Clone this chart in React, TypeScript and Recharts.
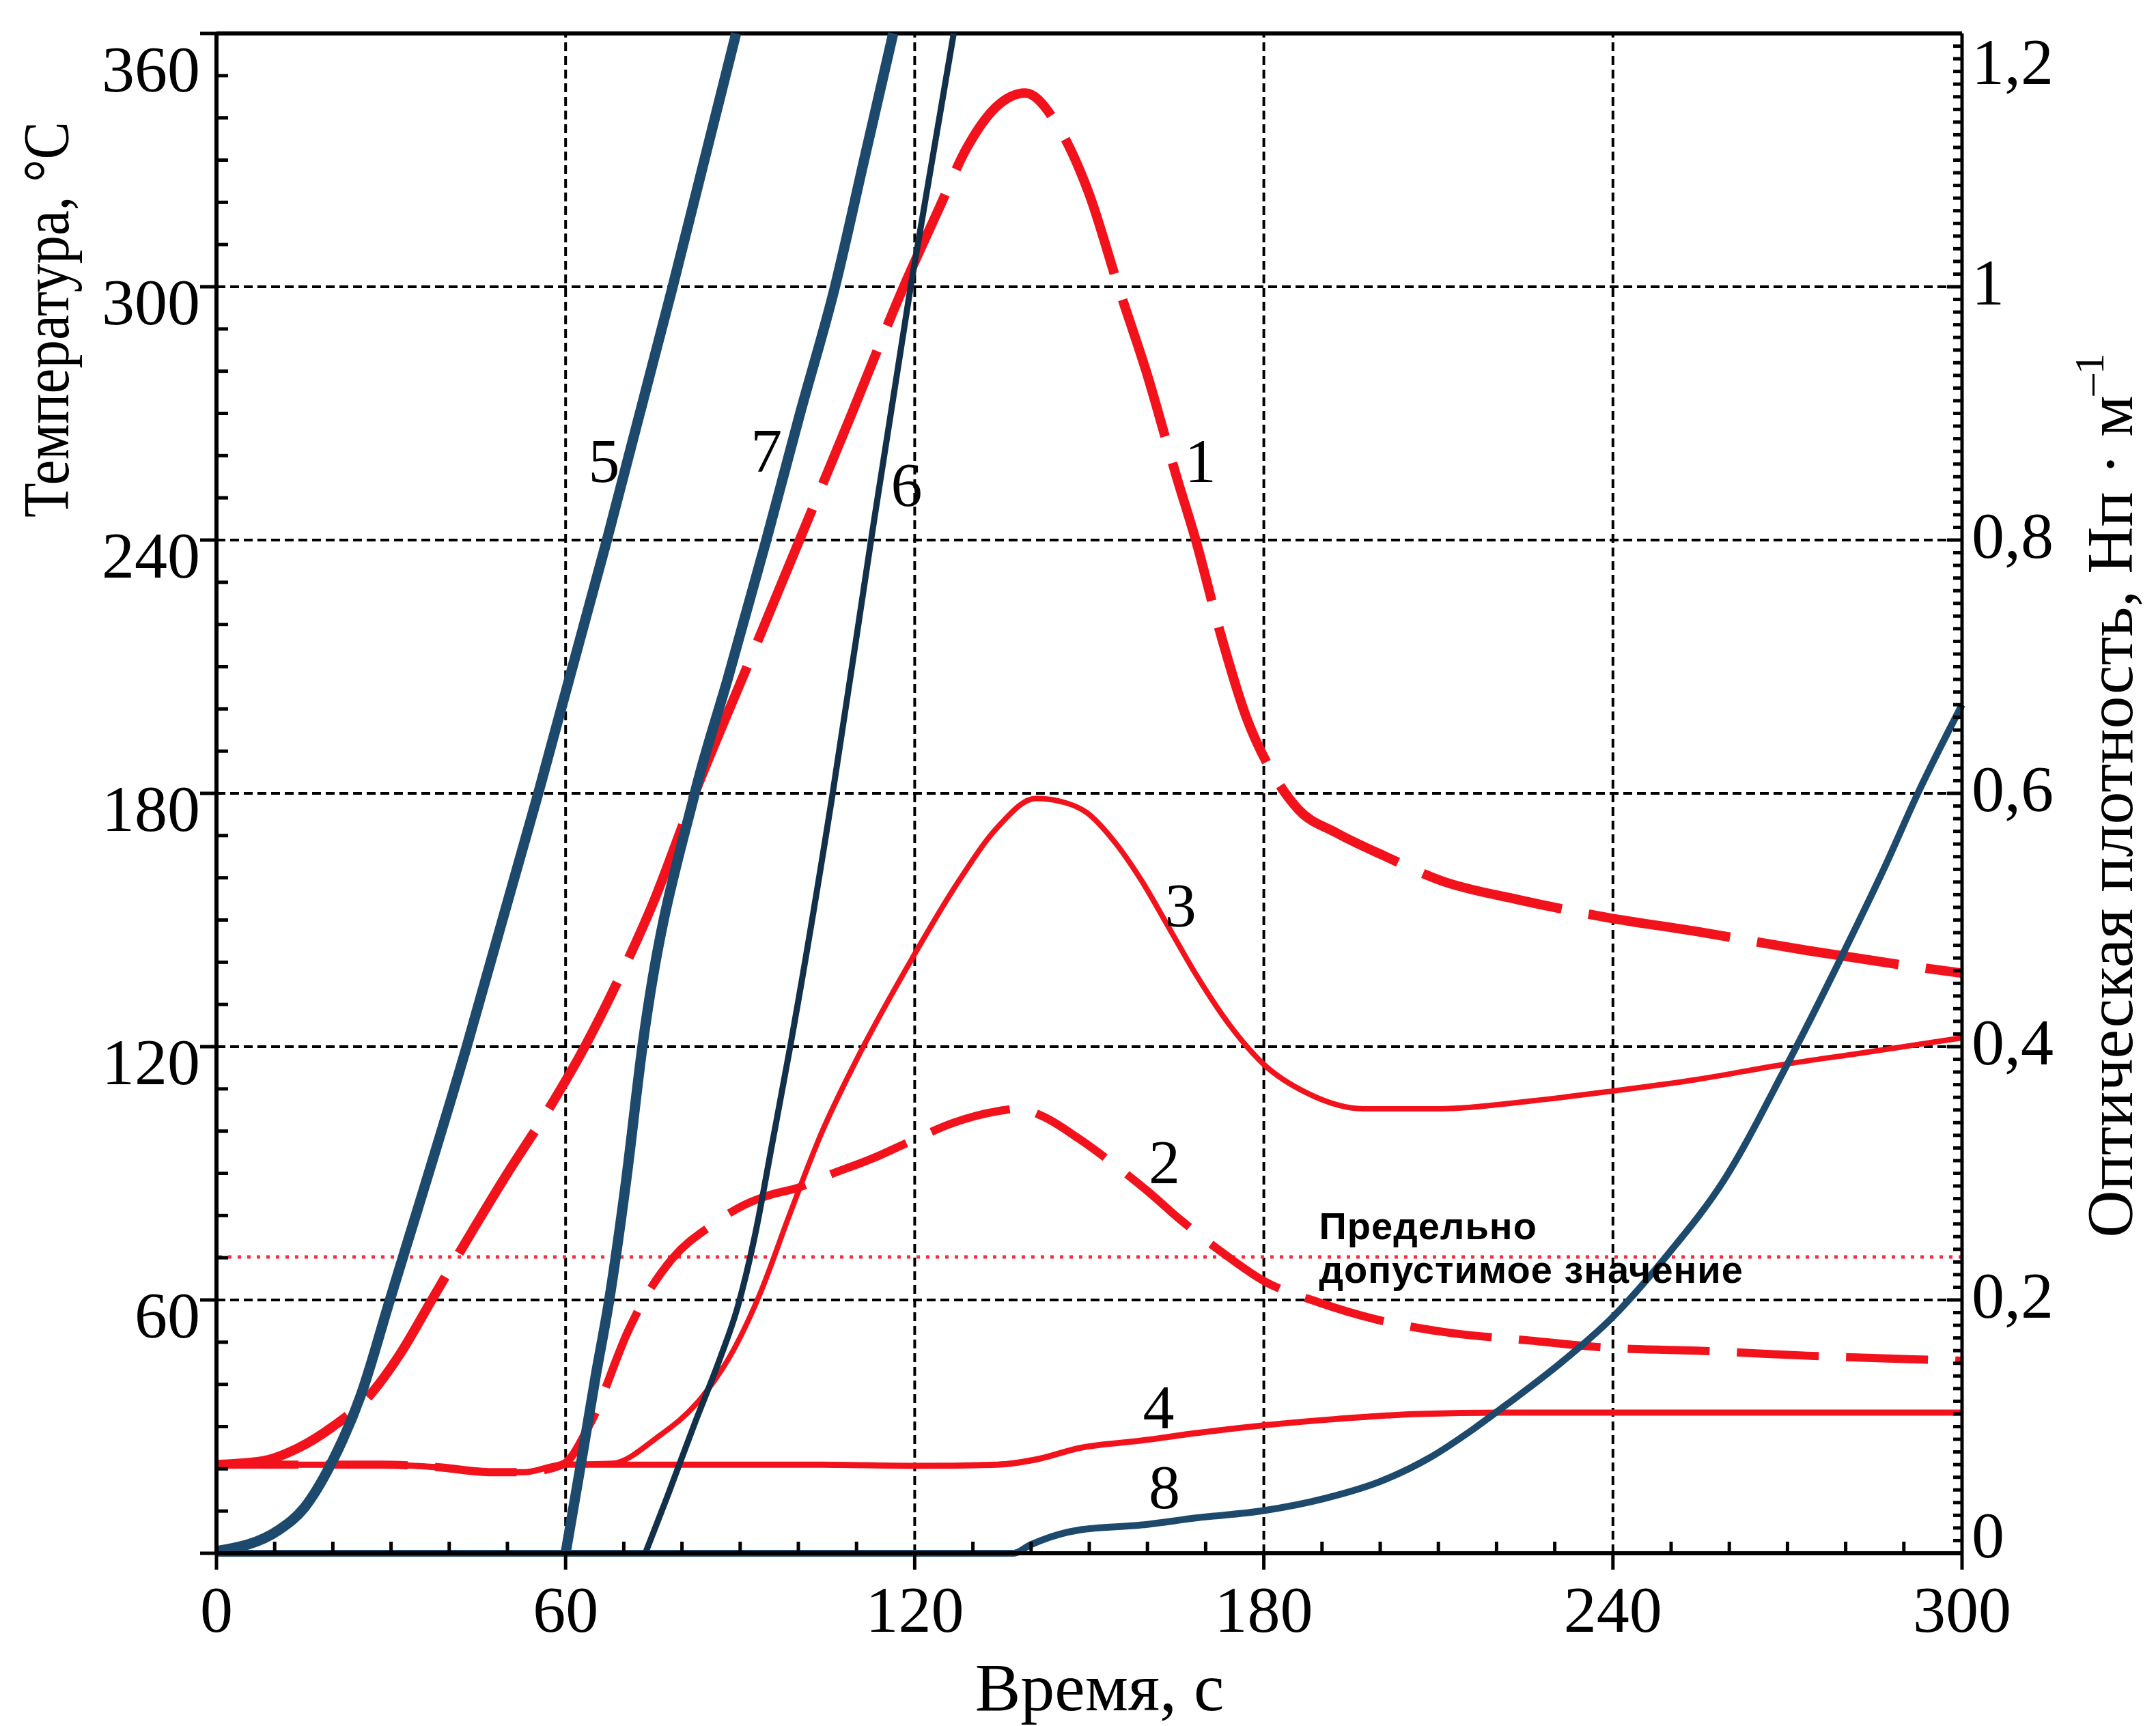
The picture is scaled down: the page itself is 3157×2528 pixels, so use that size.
import React from "react"
import { LineChart, Line, XAxis, YAxis, ReferenceLine, ReferenceDot } from "recharts"

const SERIF = '"Liberation Serif", "Times New Roman", serif'
const SANS = '"Liberation Sans", Arial, sans-serif'
const RED = "#f2121c"
const BLUE = "#1d4a6c"
const DARK = "#13304a"

// axes
const X_MAJOR = [0, 60, 120, 180, 240, 300]
const TEMP_MAJOR = [0, 60, 120, 180, 240, 300, 360]
const X_TICKS = Array.from({ length: 31 }, (_, i) => i * 10)
const TEMP_TICKS = Array.from({ length: 37 }, (_, i) => i * 10)
const OD_TICKS = Array.from({ length: 121 }, (_, i) => i / 100)
const X_GRID = [60, 120, 180, 240]
const TEMP_GRID = [60, 120, 180, 240, 300]
const OD_LIMIT = 0.234

// optical density, Нп/м (right axis): [time, value]
const CURVE_1: [number, number][] = [
  [0, 0.07], [8, 0.073], [14, 0.083], [20, 0.1], [26, 0.123], [31.5, 0.157], [37, 0.2],
  [43, 0.247], [50, 0.3], [57, 0.35], [63.3, 0.4], [69, 0.452], [75, 0.513], [82.2, 0.6],
  [91.2, 0.7], [100.2, 0.8], [109.2, 0.9], [118.1, 1.0], [124, 1.06], [129, 1.11],
  [134, 1.142], [139, 1.153], [144.6, 1.127], [150, 1.073], [155, 1.0], [160, 0.93],
  [165, 0.85], [168.3, 0.8], [172.5, 0.727], [177, 0.66], [181, 0.62], [186, 0.587],
  [192.4, 0.569], [201, 0.55], [210.5, 0.531], [223.8, 0.516], [239, 0.502], [254.3, 0.491],
  [273.3, 0.476], [290.5, 0.464], [300, 0.458],
]
const CURVE_2: [number, number][] = [
  [0, 0.07], [28.4, 0.07], [37.8, 0.068], [47.3, 0.064], [52.9, 0.064], [59.5, 0.07],
  [64.3, 0.103], [70.9, 0.177], [73.7, 0.202], [78.4, 0.233], [85.1, 0.259], [90.7, 0.275],
  [94.5, 0.282], [100.2, 0.289], [104.9, 0.298], [113.4, 0.313], [119.6, 0.326], [126.7, 0.34],
  [134.2, 0.349], [138, 0.351], [142, 0.345], [148, 0.328], [154, 0.308], [160, 0.286],
  [166, 0.262], [173, 0.237], [180, 0.215], [189.5, 0.198], [199, 0.185], [210.5, 0.175],
  [225.7, 0.168], [240, 0.162], [254.3, 0.16], [273.3, 0.156], [300, 0.152],
]
const CURVE_3: [number, number][] = [
  [0, 0.07], [28.4, 0.07], [37.8, 0.068], [47.3, 0.064], [52.9, 0.064], [59.5, 0.07],
  [68, 0.071], [75.6, 0.091], [83.2, 0.122], [88.8, 0.16], [93.6, 0.207], [98.3, 0.265],
  [104, 0.332], [109.6, 0.386], [119.6, 0.47], [127.6, 0.531], [134.2, 0.573], [140.8, 0.596],
  [145.6, 0.593], [149.5, 0.585], [154.3, 0.562], [159, 0.531], [163.8, 0.493], [168.6, 0.455],
  [174.3, 0.416], [180, 0.386], [187.6, 0.363], [197.1, 0.351], [210.5, 0.351], [225.7, 0.357],
  [240, 0.365], [254.3, 0.374], [269.4, 0.386], [282.8, 0.395], [300, 0.407],
]
const CURVE_4: [number, number][] = [
  [0, 0.07], [28.4, 0.07], [37.8, 0.068], [47.3, 0.064], [52.9, 0.064], [59.5, 0.07],
  [80, 0.07], [104, 0.07], [119.6, 0.069], [134.2, 0.07], [140.8, 0.074], [148.2, 0.083],
  [159, 0.089], [168.6, 0.095], [180, 0.101], [192.4, 0.106], [206.7, 0.11], [221, 0.111],
  [240, 0.111], [270, 0.111], [300, 0.111],
]

// temperature, °C (left axis): [time, value]
const CURVE_5: [number, number][] = [
  [0, 0.5], [10.7, 5.5], [15.1, 10.8], [19.7, 21.2], [24.9, 37.8], [29.8, 60], [43, 120],
  [55.3, 180], [67.1, 240], [78.4, 300], [89.3, 360],
]
const CURVE_6: [number, number][] = [
  [73.7, 0], [77.5, 13.5], [82.2, 30.8], [86.5, 46], [89.5, 58], [92.5, 75], [95.5, 97],
  [98.6, 120], [105.9, 180], [112.5, 240], [119.3, 300], [126.7, 360],
]
const CURVE_7: [number, number][] = [
  [60, 0], [62.4, 19.3], [65.2, 42.2], [67.5, 60], [70.4, 88.2], [73.2, 120],
  [82.2, 180], [87.9, 207.3], [94.5, 240], [100.3, 270], [106.3, 300],
  [111.3, 330], [116.3, 360],
]
const CURVE_8: [number, number][] = [
  [0, 0], [137, 0], [139.9, 2], [148.2, 5.5], [159, 6.7], [168.6, 8.4], [180, 10.1],
  [190.5, 13], [200, 17], [208.6, 22.7], [216.2, 29.6], [221.9, 35.4], [230.5, 44.5],
  [240, 56], [249.5, 70.9], [259, 88.2], [269.5, 114.6], [280, 143.3], [286.7, 162.5],
  [292.4, 180], [300, 201],
]

// curve numbers, in time / temperature units
const CURVE_LABELS = [
  { name: "1", t: 169.1, temp: 259 },
  { name: "2", t: 162.9, temp: 92.8 },
  { name: "3", t: 165.7, temp: 153.6 },
  { name: "4", t: 161.9, temp: 34.8 },
  { name: "5", t: 66.6, temp: 259 },
  { name: "6", t: 118.6, temp: 253.2 },
  { name: "7", t: 94.5, temp: 261.3 },
  { name: "8", t: 162.9, temp: 15.8 },
]

const pts = (a: [number, number][]) => a.map(([t, v]) => ({ t, v }))

function XTick({ x, y, payload }: any) {
  const v = payload.value
  const major = X_MAJOR.includes(v)
  return (
    <g>
      {major ? (
        <line x1={x} y1={y} x2={x} y2={y + 24} stroke="#000" strokeWidth={5} />
      ) : (
        <line x1={x} y1={y} x2={x} y2={y - 17} stroke="#000" strokeWidth={5} />
      )}
      {major && (
        <text x={x} y={y + 115} textAnchor="middle" fontFamily={SERIF} fontSize={96} fill="#000">
          {v}
        </text>
      )}
    </g>
  )
}

function TempTick({ x, y, payload }: any) {
  const v = payload.value
  const major = TEMP_MAJOR.includes(v)
  return (
    <g>
      {major ? (
        <line x1={x - 24} y1={y} x2={x} y2={y} stroke="#000" strokeWidth={5} />
      ) : (
        <line x1={x} y1={y} x2={x + 17} y2={y} stroke="#000" strokeWidth={5} />
      )}
      {major && v > 0 && (
        <text x={x - 24} y={y + (v === 360 ? 85 : 55)} textAnchor="end" fontFamily={SERIF} fontSize={96} fill="#000">
          {v}
        </text>
      )}
    </g>
  )
}

function OdTick({ x, y, payload }: any) {
  const i = Math.round(payload.value * 100)
  const major = i % 20 === 0
  const dy = i === 120 ? 74 : i === 0 ? 6 : 26
  return (
    <g>
      <line x1={x - (major ? 22 : 13)} y1={y} x2={x} y2={y} stroke="#000" strokeWidth={5} />
      {major && (
        <text x={x + 14} y={y + dy} textAnchor="start" fontFamily={SERIF} fontSize={96} fill="#000">
          {String(i / 100).replace(".", ",")}
        </text>
      )}
    </g>
  )
}

export default function App() {
  return (
    <div style={{ position: "absolute", left: 0, top: 0, background: "#fff" }}>
      <LineChart width={3157} height={2528} margin={{ top: 49, right: 0, bottom: 0, left: 0 }}>
        <XAxis
          dataKey="t"
          type="number"
          domain={[0, 300]}
          ticks={X_TICKS}
          interval={0}
          height={253}
          tickSize={0}
          tickMargin={0}
          tickLine={false}
          axisLine={{ stroke: "#000", strokeWidth: 6 }}
          tick={(p: any) => <XTick {...p} />}
          label={{
            content: () => (
              <text x={1610} y={2505} textAnchor="middle" fontFamily={SERIF} fontSize={100} fill="#000">
                Время, с
              </text>
            ),
          }}
        />
        <YAxis
          yAxisId="temp"
          type="number"
          domain={[0, 360]}
          ticks={TEMP_TICKS}
          interval={0}
          width={317}
          tickSize={0}
          tickMargin={0}
          tickLine={false}
          axisLine={{ stroke: "#000", strokeWidth: 6 }}
          tick={(p: any) => <TempTick {...p} />}
          label={{
            content: () => (
              <text
                x={100}
                y={468}
                transform="rotate(-90 100 468)"
                textAnchor="middle"
                fontFamily={SERIF}
                fontSize={96}
                textLength={580}
                lengthAdjust="spacingAndGlyphs"
                fill="#000"
              >
                Температура, °С
              </text>
            ),
          }}
        />
        <YAxis
          yAxisId="od"
          orientation="right"
          type="number"
          domain={[0, 1.2]}
          ticks={OD_TICKS}
          interval={0}
          width={284}
          tickSize={0}
          tickMargin={0}
          tickLine={false}
          axisLine={{ stroke: "#000", strokeWidth: 5 }}
          tick={(p: any) => <OdTick {...p} />}
          label={{
            content: () => (
              <text x={3122} y={1165} transform="rotate(-90 3122 1165)" textAnchor="middle" fontFamily={SERIF} fontSize={96} fill="#000">
                Оптическая плотность, Нп · м
                <tspan dy={-42} fontSize={62}>–1</tspan>
              </text>
            ),
          }}
        />

        {X_GRID.map((v) => (
          <ReferenceLine key={"gx" + v} x={v} yAxisId="temp" stroke="#000" strokeWidth={4} strokeDasharray="13 7" zIndex={-50} />
        ))}
        {TEMP_GRID.map((v) => (
          <ReferenceLine key={"gy" + v} y={v} yAxisId="temp" stroke="#000" strokeWidth={4} strokeDasharray="13 7" zIndex={-50} />
        ))}
        <ReferenceLine y={360} yAxisId="temp" stroke="#000" strokeWidth={6} />
        <ReferenceLine y={OD_LIMIT} yAxisId="od" stroke="#ff2a3a" strokeWidth={5} strokeDasharray="5 9" />

        <Line data={pts(CURVE_4)} dataKey="v" yAxisId="od" type="monotone" stroke={RED} strokeWidth={9} dot={false} isAnimationActive={false} />
        <Line data={pts(CURVE_3)} dataKey="v" yAxisId="od" type="monotone" stroke={RED} strokeWidth={8} dot={false} isAnimationActive={false} />
        <Line data={pts(CURVE_2)} dataKey="v" yAxisId="od" type="monotone" stroke={RED} strokeWidth={12} strokeDasharray="120 40" dot={false} isAnimationActive={false} />
        <Line data={pts(CURVE_1)} dataKey="v" yAxisId="od" type="monotone" stroke={RED} strokeWidth={14} strokeDasharray="210 40" dot={false} isAnimationActive={false} />
        <Line data={pts(CURVE_8)} dataKey="v" yAxisId="temp" type="monotone" stroke={BLUE} strokeWidth={10} dot={false} isAnimationActive={false} />
        <Line data={pts(CURVE_6)} dataKey="v" yAxisId="temp" type="monotone" stroke={DARK} strokeWidth={9} dot={false} isAnimationActive={false} />
        <Line data={pts(CURVE_7)} dataKey="v" yAxisId="temp" type="monotone" stroke={BLUE} strokeWidth={15} dot={false} isAnimationActive={false} />
        <Line data={pts(CURVE_5)} dataKey="v" yAxisId="temp" type="monotone" stroke={BLUE} strokeWidth={15} dot={false} isAnimationActive={false} />

        {CURVE_LABELS.map((l) => (
          <ReferenceDot
            key={"lbl" + l.name}
            x={l.t}
            y={l.temp}
            yAxisId="temp"
            r={0}
            shape={(p: any) => (
              <text x={p.cx} y={p.cy + 32} textAnchor="middle" fontFamily={SERIF} fontSize={92} fill="#000">
                {l.name}
              </text>
            )}
          />
        ))}
        <ReferenceDot
          x={189.5}
          y={74.4}
          yAxisId="temp"
          r={0}
          shape={(p: any) => (
            <text x={p.cx} y={p.cy} fontFamily={SANS} fontWeight="bold" fontSize={56} letterSpacing={1} fill="#000">
              Предельно
              <tspan x={p.cx} dy={64}>допустимое значение</tspan>
            </text>
          )}
        />
      </LineChart>
    </div>
  )
}
